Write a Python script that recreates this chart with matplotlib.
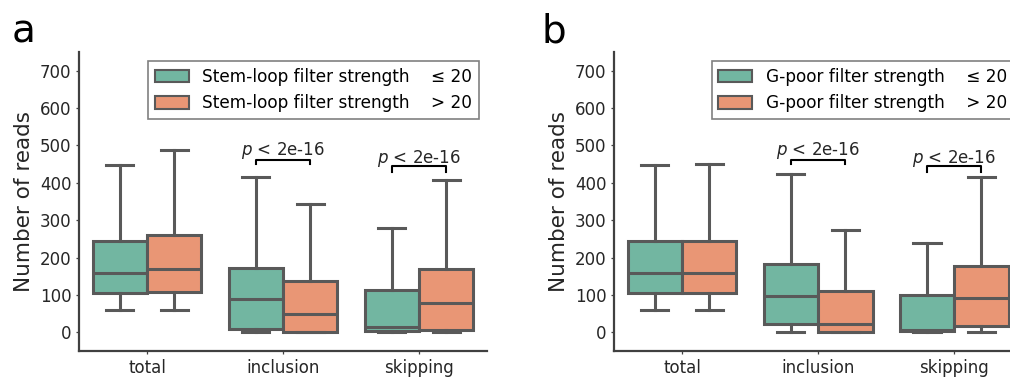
"""Box plots of read counts split by filter strength (stem-loop vs G-poor)."""

import matplotlib

matplotlib.use("Agg")
import matplotlib.pyplot as plt
from matplotlib.patches import Patch

# data (q1, median, q3, lower whisker, upper whisker)
categories = ["total", "inclusion", "skipping"]
groups = ["≤ 20", "> 20"]

stem_low_q1 = [104, 9, 4]
stem_low_med = [160, 89, 15]
stem_low_q3 = [243, 173, 114]
stem_low_whislo = [60, 0, 0]
stem_low_whishi = [447, 416, 279]

stem_high_q1 = [107, 0, 7]
stem_high_med = [170, 50, 79]
stem_high_q3 = [261, 138, 169]
stem_high_whislo = [60, 0, 0]
stem_high_whishi = [489, 343, 407]

gpoor_low_q1 = [104, 23, 4]
gpoor_low_med = [160, 98, 6]
gpoor_low_q3 = [243, 182, 99]
gpoor_low_whislo = [60, 0, 0]
gpoor_low_whishi = [449, 423, 239]

gpoor_high_q1 = [104, 0, 16]
gpoor_high_med = [160, 21, 93]
gpoor_high_q3 = [243, 111, 178]
gpoor_high_whislo = [60, 0, 0]
gpoor_high_whishi = [450, 275, 416]

# significance annotations: (category index, bracket tip, bracket top, text y)
pvalue_text = "$p$ < 2e-16"
sig_marks = [(1, 450, 462, 474), (2, 430, 444, 454)]

GREEN = "#72b6a1"
ORANGE = "#e99675"
EDGE = "#595959"


def make_stats(q1, med, q3, lo, hi):
    return [
        {"q1": a, "med": b, "q3": c, "whislo": d, "whishi": e, "fliers": []}
        for a, b, c, d, e in zip(q1, med, q3, lo, hi)
    ]


def draw_panel(ax, low, high, name):
    line = dict(color=EDGE, linewidth=2.2)
    for stats, color, offset in ((low, GREEN, -0.2), (high, ORANGE, 0.2)):
        ax.bxp(
            stats,
            positions=[i + offset for i in range(len(categories))],
            widths=0.4,
            capwidths=0.2,
            patch_artist=True,
            showfliers=False,
            boxprops=dict(facecolor=color, edgecolor=EDGE, linewidth=2.2),
            medianprops=line,
            whiskerprops=line,
            capprops=line,
            manage_ticks=False,
            zorder=2,
        )

    for idx, tip, top, ty in sig_marks:
        ax.plot([idx - 0.2, idx - 0.2, idx + 0.2, idx + 0.2], [tip, top, top, tip],
                color="black", linewidth=1.5)
        ax.text(idx, ty, pvalue_text, ha="center", va="baseline", fontsize=12,
                color="#262626")

    ax.set_xlim(-0.5, 2.5)
    ax.set_ylim(-50, 750)
    ax.set_xticks(range(len(categories)))
    ax.set_xticklabels(categories)
    ax.set_yticks(range(0, 701, 100))
    ax.set_ylabel("Number of reads", fontsize=15.5, color="#262626")
    ax.tick_params(labelsize=12, length=2.5, width=0.9, pad=3,
                   colors="#404040", labelcolor="#262626")
    for side in ("top", "right"):
        ax.spines[side].set_visible(False)
    for side in ("left", "bottom"):
        ax.spines[side].set_linewidth(1.6)
        ax.spines[side].set_color("#404040")

    handles = [
        Patch(facecolor=GREEN, edgecolor=EDGE, linewidth=1.5,
              label=f"{name} filter strength    {groups[0]}"),
        Patch(facecolor=ORANGE, edgecolor=EDGE, linewidth=1.5,
              label=f"{name} filter strength    {groups[1]}"),
    ]
    leg = ax.legend(handles=handles, loc="upper right", fontsize=12.2,
                    fancybox=False, edgecolor="#808080", framealpha=1,
                    handlelength=2.0, handleheight=0.75,
                    bbox_to_anchor=(0.98, 0.97), borderaxespad=0.0)
    leg.get_frame().set_linewidth(1.2)


fig = plt.figure(figsize=(10.1, 3.77), dpi=100)
ax_a = fig.add_axes([0.0782, 0.069, 0.404, 0.793])
ax_b = fig.add_axes([0.608, 0.069, 0.404, 0.793])

draw_panel(ax_a,
           make_stats(stem_low_q1, stem_low_med, stem_low_q3, stem_low_whislo, stem_low_whishi),
           make_stats(stem_high_q1, stem_high_med, stem_high_q3, stem_high_whislo, stem_high_whishi),
           "Stem-loop")
draw_panel(ax_b,
           make_stats(gpoor_low_q1, gpoor_low_med, gpoor_low_q3, gpoor_low_whislo, gpoor_low_whishi),
           make_stats(gpoor_high_q1, gpoor_high_med, gpoor_high_q3, gpoor_high_whislo, gpoor_high_whishi),
           "G-poor")

fig.text(0.012, 0.886, "a", fontsize=28, va="baseline")
fig.text(0.536, 0.886, "b", fontsize=28, va="baseline")

fig.savefig("out.png", dpi=100)
